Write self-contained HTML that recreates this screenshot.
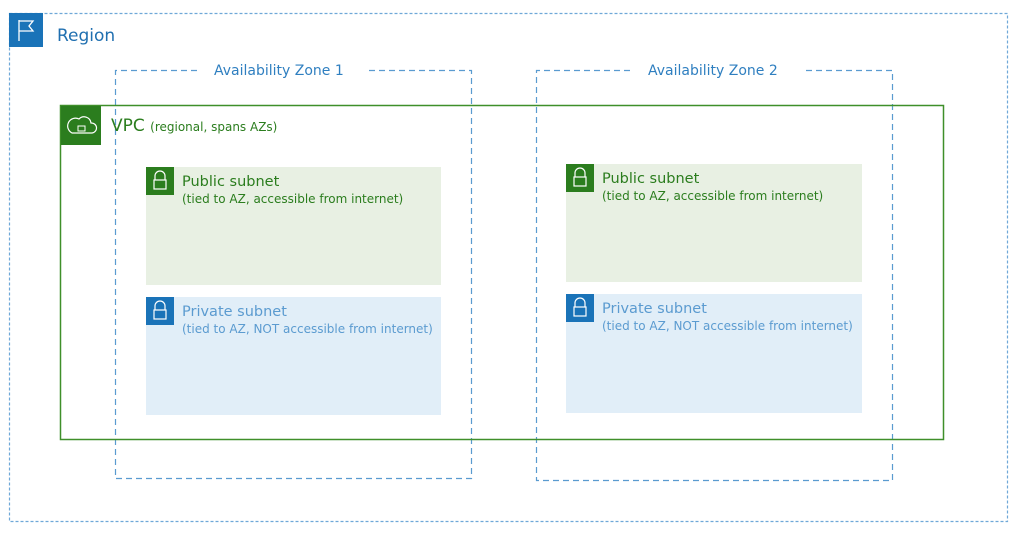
<!DOCTYPE html>
<html><head><meta charset="utf-8"><style>
body{margin:0;background:#fff;}
svg text{font-family:"DejaVu Sans","Liberation Sans",sans-serif;}
</style></head><body>
<svg width="1018" height="529" viewBox="0 0 1018 529" xmlns="http://www.w3.org/2000/svg">
<rect width="1018" height="529" fill="#fff"/>
<rect x="9.5" y="13.5" width="998" height="508" fill="none" stroke="#6fa8d8" stroke-width="1.2" stroke-dasharray="3,2"/>
<rect x="9" y="13" width="34" height="34" fill="#1a73b8"/>
<path d="M19 20 V41 M19 21 H33 L29 26 L33 31 H19" fill="none" stroke="#fff" stroke-width="1.3"/>
<text x="57" y="41" font-size="17" fill="#1f6fb0">Region</text>
<path d="M197 70.5 H115.5 V478.5 H471.5 V70.5 H366" fill="none" stroke="#5a9bd0" stroke-width="1.2" stroke-dasharray="6,4"/>
<text x="214" y="75" font-size="14" fill="#2f7fc0">Availability Zone 1</text>
<path d="M630 70.5 H536.5 V480.5 H892.5 V70.5 H805" fill="none" stroke="#5a9bd0" stroke-width="1.2" stroke-dasharray="6,4"/>
<text x="648" y="75" font-size="14" fill="#2f7fc0">Availability Zone 2</text>
<rect x="60.5" y="105.5" width="883" height="334" fill="none" stroke="#3f8f2a" stroke-width="1.5"/>
<rect x="61" y="106" width="40" height="39" fill="#2b7d1e"/>
<path d="M72 133 H92 A5 5 0 0 0 91 123 A7 7 0 0 0 79 119 A6 6 0 0 0 72 133 Z" fill="none" stroke="#fff" stroke-width="1.2"/>
<rect x="78" y="126" width="7" height="5" fill="none" stroke="#fff" stroke-width="1"/>
<text x="111" y="131" font-size="17" fill="#2b7d1e">VPC <tspan font-size="12">(regional, spans AZs)</tspan></text>
<g>
<rect x="146" y="167" width="295" height="118" fill="#e8f0e3"/>
<rect x="146" y="167" width="28" height="28" fill="#2b7d1e"/>
<path d="M155 180 V176 A5 5 0 0 1 165 176 V180" fill="none" stroke="#fff" stroke-width="1.2"/><rect x="154" y="180" width="12" height="9" fill="none" stroke="#fff" stroke-width="1.2"/>
<text x="182" y="186" font-size="14.5" fill="#2b7d1e">Public subnet</text>
<text x="182" y="203" font-size="12" fill="#2b7d1e">(tied to AZ, accessible from internet)</text>
<rect x="146" y="297" width="295" height="118" fill="#e1eef8"/>
<rect x="146" y="297" width="28" height="28" fill="#1a73b8"/>
<path d="M155 310 V306 A5 5 0 0 1 165 306 V310" fill="none" stroke="#fff" stroke-width="1.2"/><rect x="154" y="310" width="12" height="9" fill="none" stroke="#fff" stroke-width="1.2"/>
<text x="182" y="316" font-size="14.5" fill="#5b9bd0">Private subnet</text>
<text x="182" y="333" font-size="12" fill="#5b9bd0">(tied to AZ, NOT accessible from internet)</text>
</g>
<g transform="translate(420,-3)">
<rect x="146" y="167" width="296" height="118" fill="#e8f0e3"/>
<rect x="146" y="167" width="28" height="28" fill="#2b7d1e"/>
<path d="M155 180 V176 A5 5 0 0 1 165 176 V180" fill="none" stroke="#fff" stroke-width="1.2"/><rect x="154" y="180" width="12" height="9" fill="none" stroke="#fff" stroke-width="1.2"/>
<text x="182" y="186" font-size="14.5" fill="#2b7d1e">Public subnet</text>
<text x="182" y="203" font-size="12" fill="#2b7d1e">(tied to AZ, accessible from internet)</text>
<rect x="146" y="297" width="296" height="119" fill="#e1eef8"/>
<rect x="146" y="297" width="28" height="28" fill="#1a73b8"/>
<path d="M155 310 V306 A5 5 0 0 1 165 306 V310" fill="none" stroke="#fff" stroke-width="1.2"/><rect x="154" y="310" width="12" height="9" fill="none" stroke="#fff" stroke-width="1.2"/>
<text x="182" y="316" font-size="14.5" fill="#5b9bd0">Private subnet</text>
<text x="182" y="333" font-size="12" fill="#5b9bd0">(tied to AZ, NOT accessible from internet)</text>
</g>
</svg>
</body></html>
